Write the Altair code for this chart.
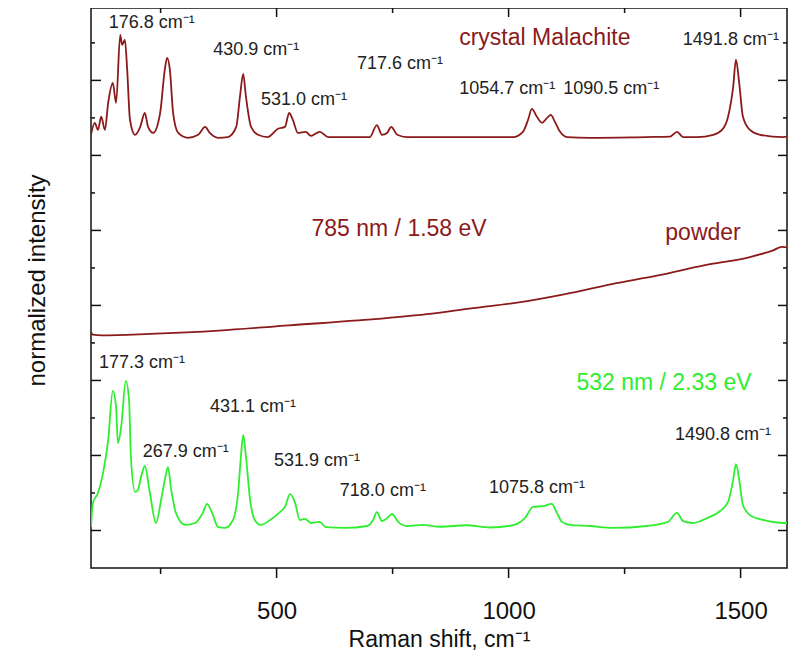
import altair as alt
import pandas as pd

# ---------------- data ----------------
# crystal Malachite, 785 nm (top, dark red)
crystal_x = [100, 108, 115, 122, 130, 137, 147, 154, 163, 167, 173, 178, 184, 195, 206, 216, 223, 234,
             249, 259, 264, 270, 277, 288, 309, 331, 346, 356, 374, 395, 413, 421, 428, 434, 445, 460,
             481, 503, 518, 527, 535, 546, 563, 574, 593, 611, 647, 701, 716, 727, 738, 747, 760, 781,
             889, 1009, 1031, 1042, 1050, 1061, 1072, 1083, 1091, 1100, 1111, 1126, 1175, 1298, 1348,
             1363, 1376, 1406, 1441, 1460, 1473, 1484, 1490, 1497, 1505, 1520, 1542, 1591, 1600]
crystal_y = [11.55, 11.87, 11.68, 12.03, 11.68, 12.40, 12.93, 12.40, 14.21, 13.95, 14.08, 13.28, 11.95,
             11.55, 11.76, 12.13, 11.76, 11.60, 12.13, 13.28, 13.60, 13.28, 12.13, 11.60, 11.47, 11.55,
             11.76, 11.60, 11.47, 11.49, 11.76, 12.56, 13.17, 12.56, 11.76, 11.55, 11.49, 11.71, 11.76,
             12.13, 11.95, 11.60, 11.63, 11.52, 11.63, 11.49, 11.49, 11.49, 11.81, 11.55, 11.60, 11.76,
             11.55, 11.49, 11.49, 11.49, 11.63, 11.95, 12.24, 12.03, 11.87, 12.00, 12.08, 11.89, 11.63,
             11.49, 11.47, 11.49, 11.50, 11.63, 11.49, 11.49, 11.55, 11.68, 12.03, 12.83, 13.55, 12.93,
             12.03, 11.68, 11.55, 11.49, 11.50]

# powder, 785 nm (middle, dark red)
powder_x = [100, 104, 123, 227, 376, 527, 675, 824, 923, 1022, 1122, 1223, 1322, 1421, 1520, 1570, 1589, 1600]
powder_y = [6.29, 6.22, 6.20, 6.24, 6.33, 6.47, 6.60, 6.77, 6.93, 7.08, 7.30, 7.57, 7.80, 8.07, 8.29,
            8.47, 8.56, 8.55]

# 532 nm (bottom, green)
green_x = [100, 104, 115, 126, 137, 147, 154, 158, 165, 175, 182, 186, 195, 201, 208, 216, 227, 240, 251,
           259, 266, 272, 283, 303, 324, 341, 350, 361, 374, 389, 406, 417, 423, 428, 434, 443, 453, 466,
           486, 507, 518, 529, 540, 550, 561, 574, 593, 606, 647, 695, 708, 716, 727, 738, 749, 762, 781,
           816, 852, 910, 960, 1009, 1035, 1053, 1074, 1093, 1104, 1115, 1132, 1175, 1225, 1298, 1343,
           1363, 1376, 1397, 1428, 1456, 1473, 1484, 1490, 1497, 1505, 1520, 1548, 1591, 1600]
green_y = [1.09, 1.73, 2.00, 2.53, 3.41, 4.72, 4.29, 3.33, 3.76, 4.99, 4.48, 2.96, 2.03, 2.08, 2.43, 2.72,
           2.00, 1.20, 1.81, 2.35, 2.69, 2.16, 1.47, 1.15, 1.20, 1.47, 1.71, 1.47, 1.09, 1.07, 1.28, 2.00,
           2.96, 3.55, 2.96, 1.81, 1.28, 1.15, 1.28, 1.49, 1.63, 1.97, 1.73, 1.28, 1.31, 1.20, 1.23, 1.09,
           1.07, 1.12, 1.28, 1.49, 1.25, 1.33, 1.44, 1.23, 1.12, 1.15, 1.10, 1.14, 1.08, 1.14, 1.33, 1.63,
           1.65, 1.71, 1.47, 1.23, 1.15, 1.12, 1.07, 1.12, 1.23, 1.47, 1.25, 1.20, 1.33, 1.52, 1.76, 2.35,
           2.77, 2.35, 1.68, 1.41, 1.28, 1.20, 1.20]

# peak annotations (dark text)
peak_text = ["176.8 cm⁻¹", "430.9 cm⁻¹", "531.0 cm⁻¹", "717.6 cm⁻¹", "1054.7 cm⁻¹", "1090.5 cm⁻¹",
             "1491.8 cm⁻¹", "177.3 cm⁻¹", "267.9 cm⁻¹", "431.1 cm⁻¹", "531.9 cm⁻¹", "718.0 cm⁻¹",
             "1075.8 cm⁻¹", "1490.8 cm⁻¹"]
peak_x = [231, 456, 559, 766, 997, 1221, 1479, 210, 304, 449, 587, 729, 1061, 1462]
peak_y = [14.52, 13.81, 12.48, 13.44, 12.77, 12.77, 14.08, 5.47, 3.09, 4.29, 2.85, 2.05, 2.13, 3.55]

# coloured labels
red_text = ["crystal Malachite", "785 nm / 1.58 eV", "powder"]
red_x = [1078, 764, 1419]
red_y = [14.13, 9.04, 8.93]
green_text = ["532 nm / 2.33 eV"]
green_lx = [1335]
green_ly = [4.93]

# axis ticks
x_labels = [500, 1000, 1500]
x_minor = [250, 750, 1250]
y_major = [1, 3, 5, 7, 9, 11, 13]
y_minor = [2, 4, 6, 8, 10, 12, 14]

# ---------------- chart ----------------
W, H = 696, 560
RED = "#8b1a1a"
GREEN = "#2fee2f"
FONT = "Liberation Sans"

xs = alt.Scale(domain=[100, 1600], nice=False, zero=False)
ys = alt.Scale(domain=[0, 14.93], nice=False, zero=False)

x_axis = alt.Axis(values=x_labels, format="d", ticks=False, domain=False, grid=False,
                  labelFont=FONT, labelFontSize=24, labelColor="#111", labelPadding=31,
                  title="Raman shift, cm⁻¹", titleFont=FONT, titleFontSize=23, titleFontWeight="normal",
                  titleColor="#111", titleY=71, titleBaseline="middle")
y_axis = alt.Axis(labels=False, ticks=False, domain=False, grid=False,
                  title="normalized intensity", titleFont=FONT, titleFontSize=24,
                  titleFontWeight="normal", titleColor="#111", titleX=-42, titleY=272)

X = alt.X("x:Q", scale=xs, axis=x_axis)
Y = alt.Y("y:Q", scale=ys, axis=y_axis)

lines_df = pd.concat([
    pd.DataFrame({"x": crystal_x, "y": crystal_y, "s": "crystal"}),
    pd.DataFrame({"x": powder_x, "y": powder_y, "s": "powder"}),
    pd.DataFrame({"x": green_x, "y": green_y, "s": "green"}),
])

lines = alt.Chart(lines_df).mark_line(strokeWidth=1.8, clip=True, interpolate="monotone").encode(
    x=X, y=Y,
    color=alt.Color("s:N", scale=alt.Scale(domain=["crystal", "powder", "green"],
                                           range=[RED, RED, GREEN]), legend=None),
    detail="s:N",
)

xmaj_df = pd.DataFrame({"x": x_labels})
xmin_df = pd.DataFrame({"x": x_minor})
ymaj_df = pd.DataFrame({"y": y_major})
ymin_df = pd.DataFrame({"y": y_minor})

def xt(df, y0, y1):
    return alt.Chart(df).mark_rule(color="#111", strokeWidth=1.5).encode(
        x=X, y=alt.value(y0), y2=alt.value(y1))

def yt(df, x0, x1):
    return alt.Chart(df).mark_rule(color="#111", strokeWidth=1.5).encode(
        y=Y, x=alt.value(x0), x2=alt.value(x1))

ticks = [
    xt(xmaj_df, H, H + 10), xt(xmin_df, H, H + 6),
    xt(xmaj_df, 0, 9), xt(xmin_df, 0, 5),
    yt(ymaj_df, 0, 10), yt(ymin_df, 0, 4),
    yt(ymaj_df, W - 9, W), yt(ymin_df, W - 4, W),
]

peaks = alt.Chart(pd.DataFrame({"x": peak_x, "y": peak_y, "t": peak_text})).mark_text(
    font=FONT, fontSize=18, color="#222", baseline="middle", align="center").encode(
    x=X, y=Y, text="t:N")

red_lbl = alt.Chart(pd.DataFrame({"x": red_x, "y": red_y, "t": red_text})).mark_text(
    font=FONT, fontSize=23, color=RED, baseline="middle", align="center").encode(
    x=X, y=Y, text="t:N")

green_lbl = alt.Chart(pd.DataFrame({"x": green_lx, "y": green_ly, "t": green_text})).mark_text(
    font=FONT, fontSize=23, color=GREEN, baseline="middle", align="center").encode(
    x=X, y=Y, text="t:N")

chart = alt.layer(lines, *ticks, peaks, red_lbl, green_lbl).properties(
    width=W, height=H,
    autosize=alt.AutoSizeParams(type="none"),
    padding={"left": 83, "top": 0, "right": 5, "bottom": 84},
).configure_view(stroke="#111", strokeWidth=1.5)

chart.save("out.html", embed_options={"renderer": "svg", "actions": False})
